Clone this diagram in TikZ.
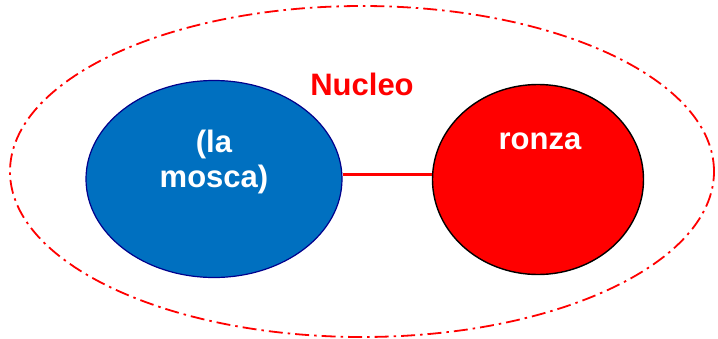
\documentclass[tikz,border=0pt]{standalone}
\usepackage{fontspec}
\setmainfont{Liberation Sans}
\usetikzlibrary{shapes.geometric}
\definecolor{myblue}{RGB}{0,112,192}
\definecolor{navy}{RGB}{0,0,140}
\begin{document}
\begin{tikzpicture}[x=1pt,y=-1pt,
  lbl/.style={font=\fontsize{31}{35}\selectfont\bfseries, align=center},
  outer/.style={draw=red, line width=1.8pt, dash pattern=on 14pt off 5pt on 2.5pt off 5pt},
  link/.style={draw=red, line width=3pt}]
\useasboundingbox (0,0) rectangle (718,338);
\node[outer, ellipse, minimum width=704, minimum height=331, inner sep=0] (out) at (362,171.5) {};
\node[draw=navy, line width=1.2pt, fill=myblue, ellipse, minimum width=256, minimum height=197, inner sep=0] (a) at (214,179) {};
\node[draw=black, line width=1.4pt, fill=red, ellipse, minimum width=211, minimum height=190, inner sep=0] (b) at (538,179.5) {};
\draw[link] (a.east |- 0,174) -- (b.west |- 0,174);
\node[lbl, text=white] (t1) at (214,162) {(la\\mosca)};
\node[lbl, text=white] (t2) at (540,141) {ronza};
\node[lbl, text=red] (t3) at (362,84) {Nucleo};
\end{tikzpicture}
\end{document}
